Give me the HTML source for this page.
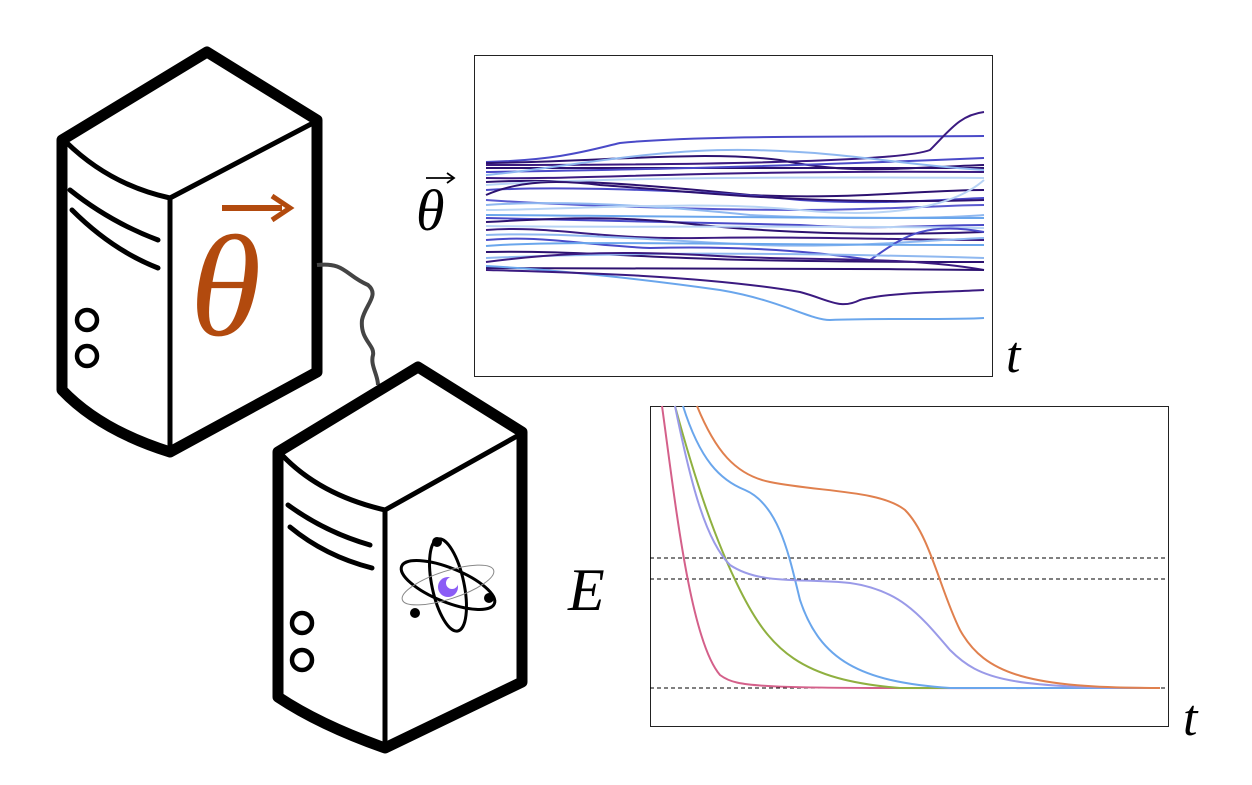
<!DOCTYPE html>
<html><head><meta charset="utf-8"><style>
html,body{margin:0;padding:0;background:#fff;}
svg{display:block}
text{font-family:"Liberation Serif",serif;font-style:italic}
</style></head><body>
<svg width="1252" height="785" viewBox="0 0 1252 785" xmlns="http://www.w3.org/2000/svg">
<!-- Server 1 -->
<g fill="none" stroke="#000" stroke-linejoin="round" stroke-linecap="round">
<path d="M62 140 L207 52 L317 120 L317 372 L170 452 Q100 430 62 390 Z" fill="#fff" stroke-width="11"/>
<path d="M66 142 Q110 185 170 198 L315 122" stroke-width="5"/>
<path d="M170 198 L170 450" stroke-width="5"/>
<path d="M70 190 Q110 222 158 240" stroke-width="5"/>
<path d="M72 210 Q112 250 158 268" stroke-width="5"/>
<circle cx="87" cy="320" r="10" stroke-width="4.5"/>
<circle cx="87" cy="356" r="10" stroke-width="4.5"/>
</g>
<text x="190" y="335" font-size="145" fill="#b24a0e">θ</text>
<path d="M222 208 L282 208" stroke="#b24a0e" stroke-width="6"/>
<path d="M272 196 L290 208 L272 220" stroke="#b24a0e" stroke-width="5" fill="none"/>
<!-- cable -->
<path d="M317 265 C345 262 345 275 368 285 C380 295 365 305 362 320 C360 340 375 345 373 355 C370 365 378 375 378 385" fill="none" stroke="#444" stroke-width="4"/>
<!-- Server 2 -->
<g fill="none" stroke="#000" stroke-linejoin="round" stroke-linecap="round">
<path d="M278 452 L418 367 L522 432 L522 682 L385 748 Q320 725 278 697 Z" fill="#fff" stroke-width="11"/>
<path d="M282 455 Q320 495 385 510 L519 435" stroke-width="5"/>
<path d="M385 510 L385 746" stroke-width="5"/>
<path d="M288 505 Q325 532 370 545" stroke-width="5"/>
<path d="M290 527 Q325 556 372 568" stroke-width="5"/>
<circle cx="302" cy="623" r="10" stroke-width="4.5"/>
<circle cx="302" cy="660" r="10" stroke-width="4.5"/>
</g>
<!-- atom -->
<g fill="none">
<ellipse cx="448" cy="585" rx="50" ry="17" transform="rotate(22 448 585)" stroke="#000" stroke-width="3"/>
<ellipse cx="448" cy="585" rx="16" ry="47" transform="rotate(-12 448 585)" stroke="#000" stroke-width="3"/>
<ellipse cx="448" cy="585" rx="48" ry="14" transform="rotate(-18 448 585)" stroke="#888" stroke-width="1"/>
<circle cx="448" cy="587" r="10" fill="#8b5cf6"/>
<circle cx="452" cy="583" r="6" fill="#fff"/>
<circle cx="437" cy="542" r="5" fill="#000"/><circle cx="489" cy="598" r="5" fill="#000"/><circle cx="415" cy="613" r="5" fill="#000"/>
</g>
<!-- top chart -->
<rect x="474.5" y="55.5" width="518" height="321" fill="#fff" stroke="#222" stroke-width="1"/>
<g fill="none" stroke-width="2">
<path d="M486 162 C560 160 590 150 620 143 C700 135 850 137 984 136" stroke="#4a4ac8"/>
<path d="M486 165 C700 165 900 162 930 150 C950 130 960 115 984 112" stroke="#3b1a80"/>
<path d="M486 163 C600 162 700 150 780 160 C850 175 900 168 984 165" stroke="#2d1270"/>
<path d="M486 168 C600 167 800 168 984 168" stroke="#2d1270"/>
<path d="M486 172 C600 170 750 168 984 158" stroke="#4a4ac8"/>
<path d="M486 175 C550 170 650 148 750 150 C850 152 900 165 984 170" stroke="#8fb8f0"/>
<path d="M486 178 C580 180 700 170 984 172" stroke="#3b1a80"/>
<path d="M486 182 C560 178 650 185 750 195 C850 200 920 190 984 190" stroke="#2d1270"/>
<path d="M486 185 C560 180 700 176 984 178" stroke="#b8d4f5"/>
<path d="M486 190 C560 186 700 190 800 200 C880 205 930 200 984 198" stroke="#4a4ac8"/>
<path d="M486 195 C520 180 560 180 600 185 C700 192 800 205 984 200" stroke="#2d1270"/>
<path d="M486 200 C560 205 700 210 800 210 C880 210 950 205 984 205" stroke="#5a5ad0"/>
<path d="M486 205 C560 200 650 205 750 215 C850 220 950 218 984 215" stroke="#8fb8f0"/>
<path d="M486 210 C560 210 700 200 800 210 C880 218 950 210 984 180" stroke="#b8d4f5"/>
<path d="M486 215 C560 215 700 218 984 218" stroke="#6aa6ec"/>
<path d="M486 218 C600 220 700 222 800 225 C880 230 930 225 984 225" stroke="#4a4ac8"/>
<path d="M486 222 C560 218 620 215 700 225 C800 235 900 235 984 232" stroke="#2d1270"/>
<path d="M486 226 C600 228 800 225 984 228" stroke="#b8d4f5"/>
<path d="M486 230 C550 225 600 240 700 238 C800 236 900 240 984 240" stroke="#3b1a80"/>
<path d="M486 235 C560 232 650 240 760 245 C850 248 930 240 984 238" stroke="#8fb8f0"/>
<path d="M486 240 C540 235 580 245 650 248 C760 245 840 255 870 260 C900 240 920 220 984 232" stroke="#4a4ac8"/>
<path d="M486 246 C560 240 700 245 984 245" stroke="#6aa6ec"/>
<path d="M486 252 C560 250 650 258 750 260 C850 262 930 262 984 262" stroke="#2d1270"/>
<path d="M486 258 C560 255 700 250 984 258" stroke="#8fb8f0"/>
<path d="M486 262 C540 255 600 250 700 255 C800 262 900 255 984 270" stroke="#3b1a80"/>
<path d="M486 268 C600 268 800 268 984 270" stroke="#2d1270"/>
<path d="M486 266 C560 270 650 280 720 290 C780 300 810 320 830 320 C880 318 950 320 984 318" stroke="#6aa6ec"/>
<path d="M486 270 C560 272 700 275 800 292 C830 300 840 310 860 300 C890 292 950 292 984 290" stroke="#3b1a80"/>
</g>
<text x="416" y="230" font-size="58">θ</text>
<path d="M426 178 L453 178" stroke="#000" stroke-width="1.8"/>
<path d="M447 173 L454 178 L447 183" stroke="#000" stroke-width="1.8" fill="none"/>
<text x="1006" y="372" font-size="52">t</text>
<!-- bottom chart -->
<rect x="650.5" y="406.5" width="518" height="320" fill="#fff" stroke="#222" stroke-width="1"/>
<g fill="none" stroke="#000" stroke-width="1" stroke-dasharray="4,3">
<path d="M650 558 H1168"/><path d="M650 579 H1168"/><path d="M650 688 H1168"/>
</g>
<g fill="none" stroke-width="2">
<path d="M662 406 C675 500 690 640 720 675 C740 690 760 688 1160 688" stroke="#d4608a"/>
<path d="M675 406 C695 480 715 540 740 590 C770 650 800 680 900 688 L1160 688" stroke="#8fb040"/>
<path d="M683 406 C700 460 720 480 745 490 C780 505 790 560 800 600 C820 660 860 682 950 688 L1160 688" stroke="#6aa6ec"/>
<path d="M675 406 C690 480 705 540 730 565 C760 585 800 578 850 583 C900 590 920 615 950 650 C980 680 1010 688 1160 688" stroke="#9a9ae8"/>
<path d="M697 406 C715 450 735 475 770 482 C820 492 880 490 905 510 C930 535 940 590 960 630 C985 675 1030 688 1160 688" stroke="#e0804e"/>
</g>
<text x="568" y="610" font-size="60">E</text>
<text x="1183" y="735" font-size="52">t</text>
</svg>
</body></html>
